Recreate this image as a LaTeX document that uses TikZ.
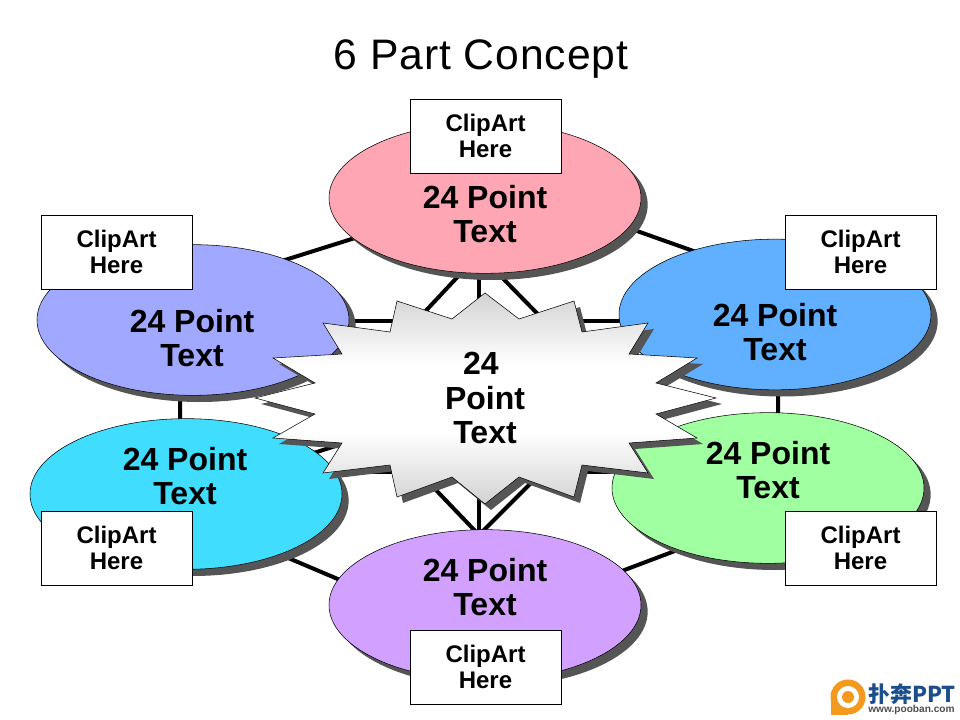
\documentclass[tikz,border=0pt]{standalone}
\usepackage{fontspec}
\setmainfont{Liberation Sans}
\newfontfamily\cjk{Noto Sans CJK SC}
\newfontfamily\titlefont[LetterSpace=2.2]{Liberation Sans}
\usetikzlibrary{shapes.geometric,shadows}

\definecolor{shadowgray}{HTML}{555555}
\definecolor{pinkfill}{HTML}{FFA6B4}
\definecolor{lavfill}{HTML}{A0A8FF}
\definecolor{bluefill}{HTML}{60B0FF}
\definecolor{cyanfill}{HTML}{40DDFF}
\definecolor{greenfill}{HTML}{A0FFA0}
\definecolor{purplefill}{HTML}{D2A0FF}
\definecolor{logoorange}{HTML}{F39A1E}
\definecolor{logoblue}{HTML}{1C4E8C}
\definecolor{stargray}{HTML}{D2D2D2}

\pgfdeclareverticalshading{starshade}{100bp}{color(0bp)=(stargray); color(25bp)=(stargray);
    color(42bp)=(white); color(58bp)=(white); color(75bp)=(stargray); color(100bp)=(stargray)}

\tikzset{
    blob/.style={ellipse, draw, line width=.4pt, inner sep=0, minimum width=234pt, minimum height=113pt,
        drop shadow={shadow xshift=5pt, shadow yshift=-5pt, fill=shadowgray, opacity=1}},
    bigtext/.style={align=center, font=\fontsize{24}{25.5}\selectfont\bfseries},
    clipbox/.style={draw, line width=.4pt, fill=white, align=center, inner sep=0, minimum width=113pt,
        minimum height=55.5pt, font=\fontsize{18}{19.5}\selectfont\bfseries},
    bar/.style={line width=3pt}
}

\begin{document}
\begin{tikzpicture}[x=.75pt, y=-.75pt]
    \useasboundingbox (0, 0) rectangle (960, 720);
    \def\starpath{(485,293) -- (519,319) -- (574,301) -- (582,332) -- (648,323) -- (629,354)
        -- (697,358) -- (656,383) -- (716,398) -- (656,414) -- (697,438) -- (629,443)
        -- (648,473) -- (582,465) -- (574,497) -- (519,477) -- (485,504) -- (452,477)
        -- (397,497) -- (390,465) -- (323,473) -- (342,443) -- (273,438) -- (315,414)
        -- (255,398) -- (315,383) -- (273,358) -- (342,354) -- (323,323) -- (390,332)
        -- (397,301) -- (452,319) -- cycle}

    \coordinate (hexAl) at (479, 199);
    \coordinate (hexAr) at (479, 175);
    \coordinate (hexB) at (778, 281);
    \coordinate (hexC) at (778, 512);
    \coordinate (hexDr) at (479, 625);
    \coordinate (hexDl) at (479, 639);
    \coordinate (hexE) at (180, 512);
    \coordinate (hexF) at (180, 293);
    \coordinate (upL) at (193, 321);
    \coordinate (upR) at (775, 321);
    \coordinate (lowL) at (186, 472);
    \coordinate (lowR) at (768, 472);
    \coordinate (kiteT) at (479, 254);
    \coordinate (kiteR) at (618, 396);
    \coordinate (kiteB) at (479, 535);
    \coordinate (kiteL) at (346, 396);
    \coordinate (mid) at (485, 398);
    \coordinate (cyaC) at (186, 494);
    \coordinate (greC) at (768, 488);

    \draw [bar] (hexF) -- (hexAl);
    \draw [bar] (hexAr) -- (hexB) -- (hexC) -- (hexDr);
    \draw [bar] (hexDl) -- (hexE) -- (hexF);
    \draw [bar] (hexAl) -- (hexDl);
    \draw [bar] (upL) -- (upR);
    \draw [bar] (lowL) -- (lowR);
    \draw [bar] (kiteT) -- (kiteR) -- (kiteB) -- (kiteL) -- cycle;
    \draw [bar] (cyaC) -- (mid);
    \draw [bar] (greC) -- (mid);

    \node [blob, fill=lavfill] (lav) at (193, 320) {};
    \node [blob, fill=bluefill] (blu) at (775, 314.5) {};
    \node [blob, fill=cyanfill] (cya) at (cyaC) {};
    \node [blob, fill=greenfill] (gre) at (greC) {};
    \node [blob, fill=pinkfill] (pin) at (485, 198) {};
    \node [blob, fill=purplefill] (pur) at (485, 605) {};

    \node [bigtext] (pintext) at (485, 214) {24 Point\\Text};
    \node [bigtext] (lavtext) at (192, 338) {24 Point\\Text};
    \node [bigtext] (blutext) at (775, 332) {24 Point\\Text};
    \node [bigtext] (cyatext) at (185, 476) {24 Point\\Text};
    \node [bigtext] (gretext) at (768, 470) {24 Point\\Text};
    \node [bigtext] (purtext) at (485, 587) {24 Point\\Text};

    \node [clipbox] (pinclip) at (485.5, 136) {ClipArt\\Here};
    \node [clipbox] (lavclip) at (116.5, 252) {ClipArt\\Here};
    \node [clipbox] (bluclip) at (860.5, 252) {ClipArt\\Here};
    \node [clipbox] (cyaclip) at (116.5, 548) {ClipArt\\Here};
    \node [clipbox] (greclip) at (860.5, 548) {ClipArt\\Here};
    \node [clipbox] (purclip) at (485.5, 667) {ClipArt\\Here};

    \fill [shadowgray, shift={(6, 6)}] \starpath;
    \shade [shading=starshade] \starpath;
    \draw [line width=.4pt] \starpath;
    \node [bigtext, font=\fontsize{24}{25.8}\selectfont\bfseries] (hubtext) at (485, 398) {24\kern6pt\\Point\\Text};

    \node [anchor=base, inner sep=0, font=\titlefont\fontsize{32}{36}\selectfont] (title) at (481, 70) {6 Part Concept};

    \fill [logoorange] (848, 697) circle (17.5);
    \fill [logoorange] (831, 697) rectangle (848, 715);
    \fill [white] (848, 697) circle (11);
    \fill [logoorange] (848, 697) circle (6);
    \node [anchor=west, inner sep=0, text=logoblue, font=\cjk\fontsize{16.4}{17}\selectfont\bfseries] (logoname) at (868, 694) {扑奔PPT};
    \node [anchor=west, inner sep=0, text=black!70, font=\fontsize{7.6}{8}\selectfont\bfseries] (logourl) at (868, 710) {www.pooban.com};
\end{tikzpicture}
\end{document}
